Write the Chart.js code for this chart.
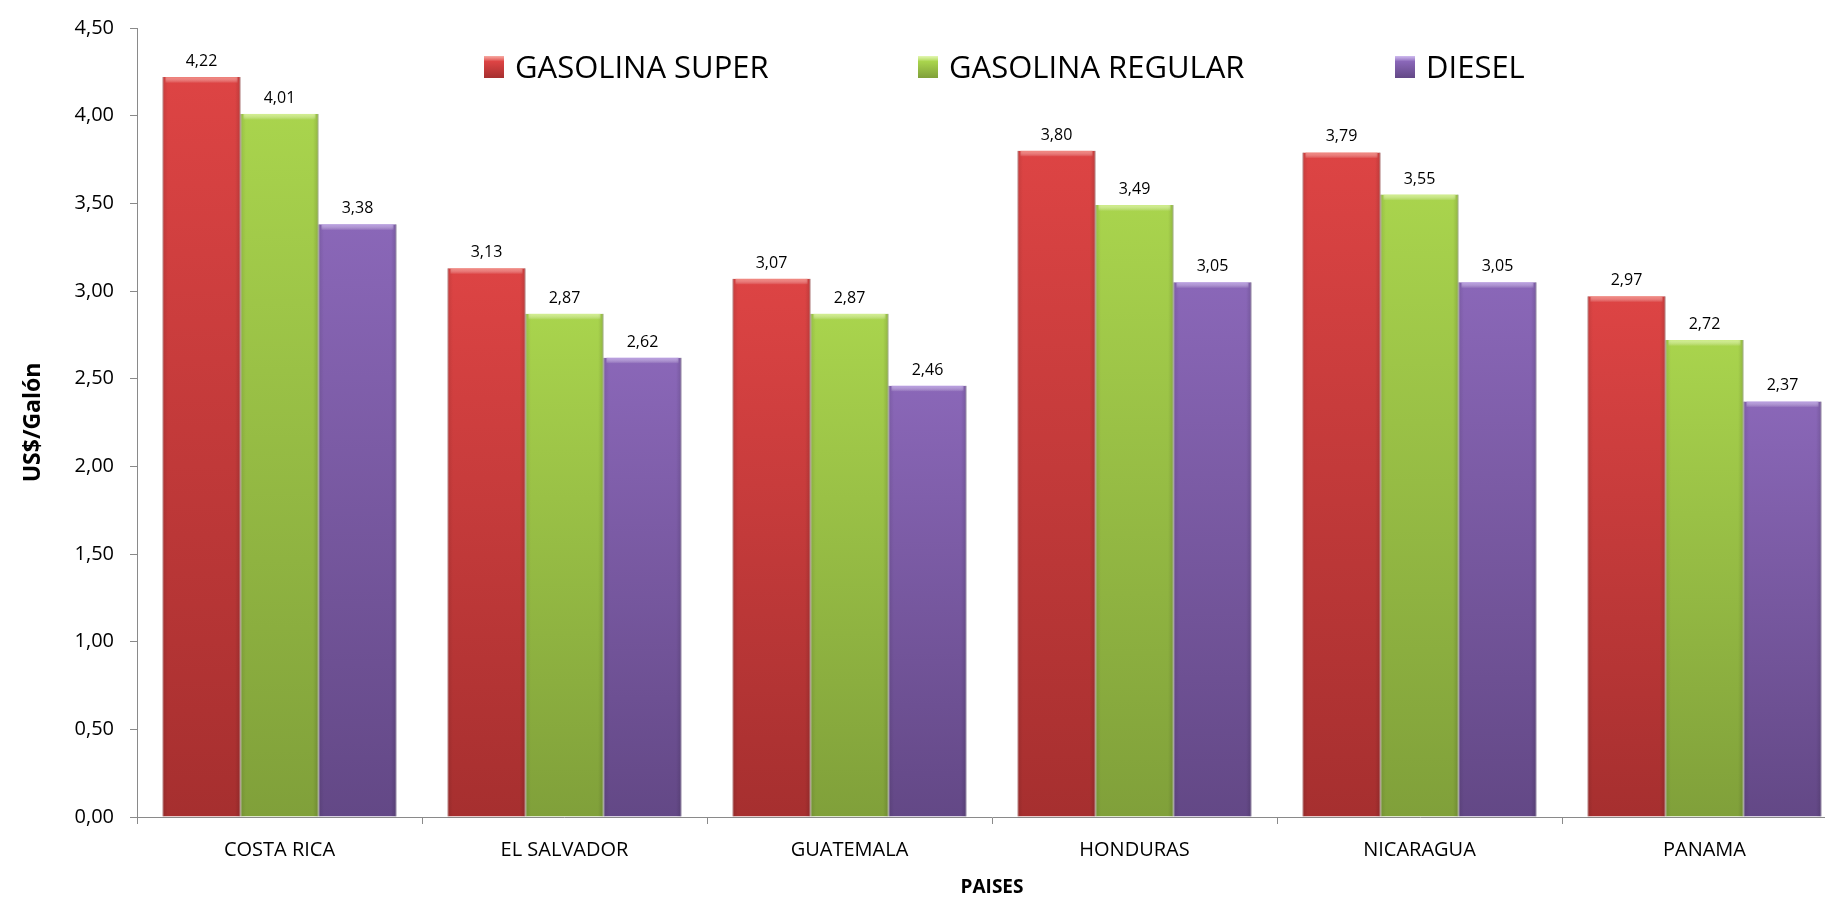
<!DOCTYPE html>
<html>
<head>
<meta charset="utf-8">
<script src="https://cdn.jsdelivr.net/npm/chart.js@4/dist/chart.umd.min.js"></script>
<style>
  html, body { margin: 0; padding: 0; background: #ffffff; overflow: hidden; }
  #wrap { width: 1825px; height: 901px; overflow: hidden; }
  canvas { display: block; }
</style>
</head>
<body>
<div id="wrap"><canvas id="c" width="1847" height="901"></canvas></div>
<script>
const categories = ["COSTA RICA", "EL SALVADOR", "GUATEMALA", "HONDURAS", "NICARAGUA", "PANAMA"];
const seriesNames = ["GASOLINA SUPER", "GASOLINA REGULAR", "DIESEL"];
const gasolinaSuper = [4.22, 3.13, 3.07, 3.80, 3.79, 2.97];
const gasolinaRegular = [4.01, 2.87, 2.87, 3.49, 3.55, 2.72];
const diesel = [3.38, 2.62, 2.46, 3.05, 3.05, 2.37];
const yTicks = [0, 0.5, 1, 1.5, 2, 2.5, 3, 3.5, 4, 4.5];
const yTitle = "US$/Galón";
const xTitle = "PAISES";

const palettes = [
  { top: "#dd4444", bottom: "#a62f2f", edge: "#9a2b2b", hi: "rgba(245,150,140,0.8)" },
  { top: "#a9d44d", bottom: "#80a03a", edge: "#728f33", hi: "rgba(220,245,160,0.8)" },
  { top: "#8a67b8", bottom: "#634886", edge: "#58407a", hi: "rgba(195,170,235,0.8)" }
];

function fmt(v) { return v.toFixed(2).replace('.', ','); }

function barGradient(idx) {
  return function (ctx) {
    const chart = ctx.chart;
    const area = chart.chartArea;
    const p = palettes[idx];
    if (!area || ctx.type !== 'data') return p.top;
    const y = chart.scales.y;
    const yTop = y.getPixelForValue(ctx.raw);
    const yBot = y.getPixelForValue(0);
    if (!isFinite(yTop) || yBot - yTop < 1) return p.top;
    const g = chart.ctx.createLinearGradient(0, yTop, 0, yBot);
    g.addColorStop(0, p.top);
    g.addColorStop(1, p.bottom);
    return g;
  };
}

const valuesBySeries = [gasolinaSuper, gasolinaRegular, diesel];

const labelPlugin = {
  id: 'valueLabels',
  afterDatasetsDraw(chart) {
    const ctx = chart.ctx;
    ctx.save();
    chart.data.datasets.forEach((ds, di) => {
      const meta = chart.getDatasetMeta(di);
      meta.data.forEach((bar, i) => {
        const p = palettes[di];
        const w = bar.width;
        const left = bar.x - w / 2;
        // top bevel highlight
        const hg = ctx.createLinearGradient(0, bar.y, 0, bar.y + 6);
        hg.addColorStop(0, p.hi);
        hg.addColorStop(1, 'rgba(255,255,255,0)');
        ctx.fillStyle = hg;
        ctx.fillRect(left + 3, bar.y, w - 6, 6);
        // side shading
        const sg = ctx.createLinearGradient(left, 0, left + w, 0);
        sg.addColorStop(0, 'rgba(0,0,0,0.10)');
        sg.addColorStop(0.07, 'rgba(0,0,0,0)');
        sg.addColorStop(0.93, 'rgba(0,0,0,0)');
        sg.addColorStop(1, 'rgba(0,0,0,0.14)');
        ctx.fillStyle = sg;
        ctx.fillRect(left, bar.y, w, bar.base - bar.y);
        // value label
        ctx.fillStyle = '#000000';
        ctx.font = '16px "Open Sans"';
        ctx.textAlign = 'center';
        ctx.textBaseline = 'alphabetic';
        ctx.fillText(fmt(ds.data[i]), bar.x, bar.y - 11);
      });
    });
    ctx.restore();
  }
};

const legendPlugin = {
  id: 'customLegend',
  afterDraw(chart) {
    const ctx = chart.ctx;
    const xs = [484, 918, 1395];
    ctx.save();
    ctx.font = '31px "Open Sans"';
    ctx.textBaseline = 'alphabetic';
    ctx.textAlign = 'left';
    seriesNames.forEach((name, i) => {
      const p = palettes[i];
      const x = xs[i];
      const g = ctx.createLinearGradient(0, 56, 0, 78);
      g.addColorStop(0, p.hi);
      g.addColorStop(0.25, p.top);
      g.addColorStop(1, p.bottom);
      ctx.fillStyle = g;
      ctx.fillRect(x, 56, 20, 22);
      ctx.fillStyle = '#000000';
      ctx.fillText(name, x + 31, 78);
    });
    ctx.restore();
  }
};

const chart = new Chart(document.getElementById('c'), {
  type: 'bar',
  data: {
    labels: categories,
    datasets: seriesNames.map((name, i) => ({
      label: name,
      data: valuesBySeries[i],
      backgroundColor: barGradient(i),
      borderColor: palettes[i].edge,
      borderWidth: { left: 1, right: 1, top: 0, bottom: 0 },
      categoryPercentage: 0.821,
      barPercentage: 1.0
    }))
  },
  options: {
    responsive: false,
    animation: false,
    devicePixelRatio: 1,
    layout: { padding: { top: 24, left: 0, right: 0, bottom: 0 } },
    plugins: {
      legend: { display: false },
      tooltip: { enabled: false }
    },
    scales: {
      x: {
        grid: {
          display: true,
          drawOnChartArea: false,
          drawTicks: true,
          tickLength: 7,
          color: '#8a8a8a',
          offset: true
        },
        border: { display: true, color: '#8a8a8a', width: 1 },
        ticks: {
          color: '#000000',
          font: { family: 'Open Sans', size: 20 },
          padding: 14,
          maxRotation: 0,
          autoSkip: false
        },
        title: {
          display: true,
          text: xTitle,
          color: '#000000',
          font: { family: 'Open Sans', size: 19, weight: 'bold' },
          padding: { top: 0, bottom: 2 }
        },
        afterFit(scale) { scale.height = 84; }
      },
      y: {
        min: 0,
        max: 4.5,
        afterBuildTicks(scale) { scale.ticks = yTicks.map(v => ({ value: v })); },
        grid: {
          display: true,
          drawOnChartArea: false,
          drawTicks: true,
          tickLength: 7,
          color: '#8a8a8a'
        },
        border: { display: true, color: '#8a8a8a', width: 1 },
        ticks: {
          color: '#000000',
          font: { family: 'Open Sans', size: 20 },
          padding: 16,
          callback: (v) => fmt(Number(v))
        },
        title: {
          display: true,
          text: yTitle,
          color: '#000000',
          font: { family: 'Open Sans', size: 23, weight: 'bold' },
          padding: { top: 20, bottom: 0 }
        },
        afterFit(scale) { scale.width = 137; }
      }
    }
  },
  plugins: [labelPlugin, legendPlugin]
});
</script>
</body>
</html>
